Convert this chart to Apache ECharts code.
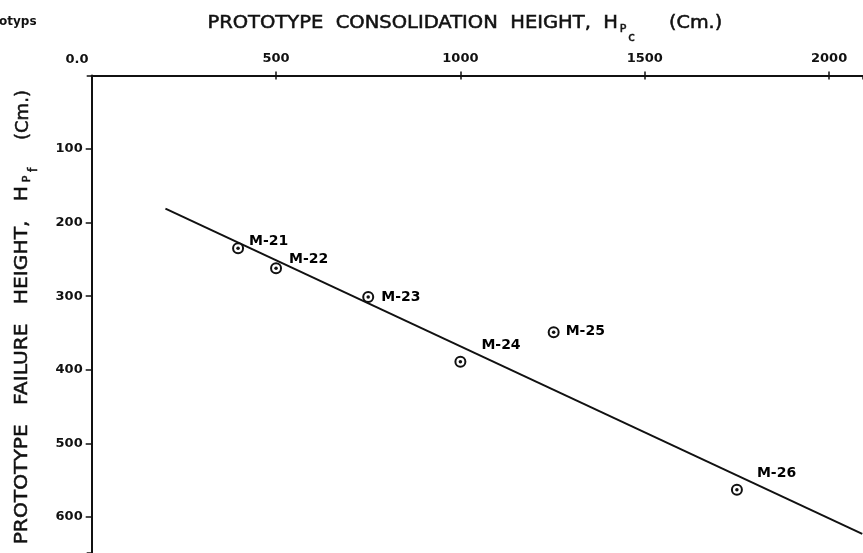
<!DOCTYPE html>
<html>
<head>
<meta charset="utf-8">
<script src="https://cdn.jsdelivr.net/npm/echarts@6/dist/echarts.min.js"></script>
<style>
html,body{margin:0;padding:0;background:#fff;}
#chart{width:863px;height:553px;}
</style>
</head>
<body>
<div id="chart"></div>
<script>
// ---- data ----
const modelNames = ['M-21', 'M-22', 'M-23', 'M-24', 'M-25', 'M-26'];
const consolidationHeight = [397, 500, 750, 1000, 1253, 1750]; // H_Pc (cm)
const failureHeight = [235, 262, 301, 389, 349, 563];          // H_Pf (cm)
const fitLineX = [200, 2090];
const fitLineY = [181, 623];
const xTicks = [0, 500, 1000, 1500, 2000];
const yTicks = [0, 100, 200, 300, 400, 500, 600];

// label offsets (layout only)
const labelOffsets = [[5, -7], [7, -9], [7, 0], [15, -16], [6, -1], [14, -16]];

const FONT = 'DejaVu Sans';
const INK = '#111111';

const points = modelNames.map((n, i) => ({
  name: n,
  value: [consolidationHeight[i], failureHeight[i]],
  label: { offset: labelOffsets[i] }
}));
const fitLine = fitLineX.map((x, i) => [x, fitLineY[i]]);

const chart = echarts.init(document.getElementById('chart'), null, { renderer: 'canvas' });

const baseX = {
  type: 'value', position: 'top', min: 0, max: 2092, interval: 500,
  splitLine: { show: false }
};
const baseY = {
  type: 'value', inverse: true, min: 0, max: 649, interval: 100,
  splitLine: { show: false }
};

const titleStyle = { fill: INK, stroke: INK, lineWidth: 0.5 };

chart.setOption({
  backgroundColor: '#ffffff',
  animation: false,
  grid: { left: 91.7, top: 75.4, right: 0, bottom: 0, containLabel: false },
  xAxis: [
    Object.assign({}, baseX, {
      axisLine: { show: true, onZero: false, lineStyle: { color: INK, width: 2 } },
      axisTick: { show: true, inside: false, length: 4, lineStyle: { color: INK, width: 1.5 } },
      axisLabel: {
        show: true, margin: 10, showMinLabel: false, showMaxLabel: false,
        color: INK, fontFamily: FONT, fontWeight: 'bold', fontSize: 13,
        formatter: v => (xTicks.indexOf(v) >= 0 ? String(v) : '')
      }
    }),
    Object.assign({}, baseX, {
      axisLine: { show: false },
      axisTick: { show: true, inside: true, length: 4, lineStyle: { color: INK, width: 1.5 } },
      axisLabel: { show: false }
    })
  ],
  yAxis: [
    Object.assign({}, baseY, {
      axisLine: { show: true, onZero: false, lineStyle: { color: INK, width: 2 } },
      axisTick: { show: true, inside: false, length: 6, lineStyle: { color: INK, width: 1.5 } },
      axisLabel: {
        show: true, margin: 9, showMinLabel: false, showMaxLabel: false,
        color: INK, fontFamily: FONT, fontWeight: 'bold', fontSize: 13,
        formatter: v => (yTicks.indexOf(v) >= 0 ? String(v) : '')
      }
    }),
    Object.assign({}, baseY, {
      axisLine: { show: false },
      axisTick: { show: true, inside: true, length: 5, lineStyle: { color: INK, width: 1.5 } },
      axisLabel: { show: false }
    })
  ],
  series: [
    {
      type: 'line', xAxisIndex: 0, yAxisIndex: 0,
      data: fitLine, showSymbol: false, symbol: 'none',
      lineStyle: { color: INK, width: 2 }, z: 2, silent: true
    },
    {
      type: 'scatter', xAxisIndex: 0, yAxisIndex: 0,
      data: points, symbol: 'circle', symbolSize: 10,
      itemStyle: { color: '#ffffff', borderColor: INK, borderWidth: 2, opacity: 1 },
      label: {
        show: true, position: 'right', distance: 0,
        formatter: p => p.name, opacity: 1,
        color: '#000000', fontFamily: FONT, fontWeight: 'bold', fontSize: 14
      },
      z: 3
    },
    {
      type: 'scatter', xAxisIndex: 0, yAxisIndex: 0,
      data: points.map(p => p.value), symbol: 'circle', symbolSize: 3.5,
      itemStyle: { color: INK, opacity: 1 }, z: 4
    }
  ],
  graphic: [
    // cropped word at top-left
    { type: 'text', x: -1, y: 22, style: { text: 'otyps', fill: INK, font: 'bold 12px "DejaVu Sans"', textVerticalAlign: 'middle' } },
    // origin label
    { type: 'text', x: 77, y: 60, style: { text: '0.0', fill: INK, font: 'bold 13px "DejaVu Sans"', textAlign: 'center', textVerticalAlign: 'middle' } },
    // x-axis title (top)
    { type: 'text', x: 618, y: 24, scaleX: 1.148, style: Object.assign({ text: 'PROTOTYPE  CONSOLIDATION  HEIGHT,  H', font: '17px "DejaVu Sans"', textAlign: 'right', textVerticalAlign: 'middle' }, titleStyle) },
    { type: 'text', x: 623, y: 29.5, style: Object.assign({ text: 'P', font: '11px "DejaVu Sans"', textAlign: 'center', textVerticalAlign: 'middle' }, titleStyle) },
    { type: 'text', x: 631.5, y: 37.5, style: Object.assign({ text: 'c', font: '12px "DejaVu Sans"', textAlign: 'center', textVerticalAlign: 'middle' }, titleStyle) },
    { type: 'text', x: 669, y: 24, scaleX: 1.13, style: Object.assign({ text: '(Cm.)', font: '17px "DejaVu Sans"', textAlign: 'left', textVerticalAlign: 'middle' }, titleStyle) },
    // y-axis title (rotated)
    { type: 'text', x: 23, y: 186, rotation: Math.PI / 2, scaleX: 1.19, style: Object.assign({ text: 'PROTOTYPE   FAILURE   HEIGHT,   H', font: '17px "DejaVu Sans"', textAlign: 'right', textVerticalAlign: 'middle' }, titleStyle) },
    { type: 'text', x: 27, y: 179, rotation: Math.PI / 2, style: Object.assign({ text: 'P', font: '11px "DejaVu Sans"', textAlign: 'center', textVerticalAlign: 'middle' }, titleStyle) },
    { type: 'text', x: 33.5, y: 170, rotation: Math.PI / 2, style: Object.assign({ text: 'f', font: '12px "DejaVu Sans"', textAlign: 'center', textVerticalAlign: 'middle' }, titleStyle) },
    { type: 'text', x: 24, y: 140, rotation: Math.PI / 2, scaleX: 1.06, style: Object.assign({ text: '(Cm.)', font: '17px "DejaVu Sans"', textAlign: 'left', textVerticalAlign: 'middle' }, titleStyle) }
  ]
});
</script>
</body>
</html>
